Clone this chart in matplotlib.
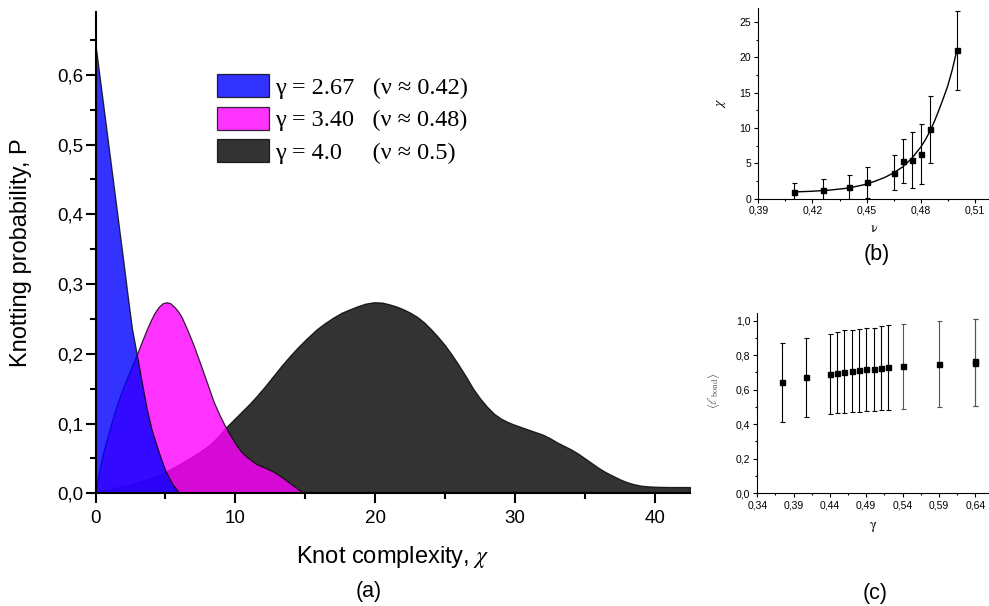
import numpy as np
import matplotlib
matplotlib.use('Agg')
import matplotlib.pyplot as plt
from matplotlib.patches import Patch
from matplotlib.ticker import MultipleLocator, FuncFormatter

plt.rcParams['font.family'] = ['Liberation Sans', 'DejaVu Sans']
plt.rcParams['mathtext.fontset'] = 'stix'

# panel (a): knotting probability curves
blue_x = [0, 0.5, 1.0, 1.5, 2.0, 2.3, 2.6, 2.95, 3.3, 3.65, 4.0, 4.5, 5.0, 5.5, 6.0]
blue_y = [0.643, 0.565, 0.487, 0.409, 0.331, 0.283, 0.237, 0.199, 0.160, 0.122, 0.092, 0.060, 0.032, 0.013, 0.0]

mag_x = [0, 0.2, 0.5, 0.8, 1.15, 1.5, 1.85, 2.2, 2.6, 2.95, 3.3, 3.66, 3.95, 4.2, 4.5,
         4.8, 5.07, 5.35, 5.65, 5.9, 6.15, 6.55, 7.0, 7.47, 8.0, 8.43, 8.85, 9.27, 9.7, 10.1,
         10.45, 10.8, 11.15, 11.5, 11.85, 12.2, 12.5, 12.8, 13.1, 13.4, 13.8, 14.2, 14.55, 14.9]
mag_y = [0, 0.025, 0.055, 0.077, 0.102, 0.125, 0.145, 0.163, 0.182, 0.199, 0.217, 0.235, 0.248, 0.258, 0.267,
         0.2725, 0.274, 0.2725, 0.267, 0.261, 0.253, 0.235, 0.213, 0.187, 0.157, 0.132, 0.113, 0.096, 0.081, 0.068,
         0.059, 0.0525, 0.047, 0.042, 0.039, 0.036, 0.033, 0.030, 0.026, 0.022, 0.016, 0.010, 0.005, 0.0]

black_x = [0, 1, 2, 3, 4.4, 5.5, 6.8, 7.5, 8.2, 8.8, 9.4, 10.0, 10.5, 11.0, 11.5, 12.1, 12.7,
           13.3, 13.9, 14.5, 15.0, 15.8, 16.4, 17.0, 17.6, 18.2, 18.7, 19.3, 19.9, 20.5, 21.0, 21.5,
           22.0, 22.5, 23.0, 23.5, 24.0, 24.5, 25.0, 25.5, 26.0, 26.5, 27.0, 27.5, 28.0, 28.5, 29.0,
           29.5, 30.0, 31.0, 32.0, 32.5, 33.0, 33.5, 34.0, 34.5, 35.0, 35.5, 36.0, 36.5, 37.0, 37.5,
           38.0, 38.5, 39.0, 39.5, 40.0, 41.0, 42.5]
black_y = [0.003, 0.006, 0.0105, 0.016, 0.025, 0.036, 0.051, 0.060, 0.070, 0.082, 0.096, 0.108, 0.118, 0.128, 0.139, 0.153, 0.168,
           0.183, 0.197, 0.210, 0.220, 0.235, 0.244, 0.252, 0.259, 0.264, 0.268, 0.272, 0.274, 0.2735, 0.271, 0.268,
           0.264, 0.259, 0.253, 0.245, 0.235, 0.224, 0.212, 0.198, 0.183, 0.167, 0.150, 0.136, 0.124, 0.114, 0.107,
           0.102, 0.098, 0.091, 0.084, 0.079, 0.073, 0.068, 0.063, 0.057, 0.050, 0.043, 0.036, 0.030, 0.025, 0.020,
           0.016, 0.013, 0.011, 0.010, 0.0095, 0.009, 0.009]

labels_a = ['\u03b3 = 2.67   (\u03bd \u2248 0.42)',
            '\u03b3 = 3.40   (\u03bd \u2248 0.48)',
            '\u03b3 = 4.0     (\u03bd \u2248 0.5)']

# panel (b): chi vs nu
nu = [0.41, 0.426, 0.44, 0.45, 0.465, 0.47, 0.475, 0.48, 0.485, 0.50]
chi = [0.95, 1.18, 1.6, 2.3, 3.7, 5.3, 5.5, 6.3, 9.8, 21.0]
chi_err = [1.3, 1.6, 1.7, 2.15, 2.45, 3.1, 3.95, 4.2, 4.7, 5.6]
fit_nu = [0.41, 0.42, 0.43, 0.44, 0.45, 0.455, 0.46, 0.465, 0.47, 0.475, 0.48, 0.4825,
          0.485, 0.4875, 0.49, 0.4925, 0.495, 0.4975, 0.50]
fit_chi = [0.95, 1.05, 1.22, 1.5, 2.05, 2.5, 3.0, 3.65, 4.5, 5.7, 7.3, 8.3,
           9.5, 10.9, 12.5, 14.2, 16.0, 18.3, 21.0]

# panel (c): mean bond length vs gamma
gam = [0.374, 0.407, 0.44, 0.45, 0.46, 0.47, 0.48, 0.49, 0.50, 0.51, 0.52, 0.54, 0.59, 0.64, 0.64]
ell = [0.645, 0.672, 0.693, 0.699, 0.705, 0.709, 0.713, 0.719, 0.719, 0.727, 0.730, 0.737, 0.750, 0.755, 0.765]
ell_lo = [0.415, 0.444, 0.459, 0.463, 0.465, 0.469, 0.473, 0.477, 0.479, 0.483, 0.485, 0.490, 0.497, 0.508, 0.508]
ell_hi = [0.869, 0.902, 0.925, 0.933, 0.944, 0.948, 0.954, 0.960, 0.960, 0.967, 0.975, 0.978, 1.000, 1.012, 1.012]


def comma(fmt):
    return FuncFormatter(lambda v, p: (fmt % v).replace('.', ','))


def style(ax, lw, major, minor, size):
    for s in ['top', 'right']:
        ax.spines[s].set_visible(False)
    for s in ['left', 'bottom']:
        ax.spines[s].set_linewidth(lw)
    ax.tick_params(which='major', direction='out', length=major, width=lw, labelsize=size, pad=2)
    ax.tick_params(which='minor', direction='out', length=minor, width=lw)


fig = plt.figure(figsize=(9.89, 6.06), dpi=100)

# ---- (a)
ax = fig.add_axes([0.0966, 0.186, 0.601, 0.794])
ax.fill_between(black_x, black_y, 0, facecolor='black', edgecolor='black', alpha=0.8, lw=0.9)
ax.fill_between(mag_x, mag_y, 0, facecolor='magenta', edgecolor='black', alpha=0.8, lw=0.9)
ax.fill_between(blue_x, blue_y, 0, facecolor='blue', edgecolor='black', alpha=0.8, lw=0.9)
ax.set_xlim(0, 42.5)
ax.set_ylim(0, 0.69)
style(ax, 1.5, 7, 4.3, 13.5)
ax.xaxis.set_major_locator(MultipleLocator(10))
ax.xaxis.set_minor_locator(MultipleLocator(5))
ax.yaxis.set_major_locator(MultipleLocator(0.1))
ax.yaxis.set_minor_locator(MultipleLocator(0.05))
ax.yaxis.set_major_formatter(comma('%.1f'))
ax.tick_params(axis='x', pad=5)
ax.set_xlabel(r'Knot complexity, $\chi$', fontsize=17)
ax.xaxis.set_label_coords(0.5, -0.105)
ax.set_ylabel('Knotting probability, P', fontsize=17)
ax.yaxis.set_label_coords(-0.125, 0.5)
ax.yaxis.label.set_va('center')

handles = [Patch(facecolor=c, edgecolor='black', alpha=0.8, lw=0.9) for c in ['blue', 'magenta', 'black']]
ax.legend(handles, labels_a, loc='upper left', bbox_to_anchor=(0.204, 0.871), frameon=False,
          prop={'family': ['Liberation Serif', 'DejaVu Serif'], 'size': 17.5},
          handlelength=2.15, handleheight=1.07, handletextpad=0.25, labelspacing=0.32,
          borderpad=0, borderaxespad=0)

# ---- (b)
axb = fig.add_axes([0.7667, 0.6722, 0.2333, 0.3147])
axb.plot(fit_nu, fit_chi, color='black', lw=1.0)
axb.errorbar(nu, chi, yerr=chi_err, fmt='s', color='black', ms=3.6, capsize=1.8, elinewidth=0.8, capthick=0.8)
axb.set_xlim(0.39, 0.5178)
axb.set_ylim(0, 27.0)
style(axb, 0.8, 3, 1.6, 7.5)
axb.xaxis.set_major_locator(MultipleLocator(0.03))
axb.xaxis.set_minor_locator(MultipleLocator(0.015))
axb.yaxis.set_major_locator(MultipleLocator(5))
axb.yaxis.set_minor_locator(MultipleLocator(2.5))
axb.xaxis.set_major_formatter(comma('%.2f'))
axb.set_xlabel(r'$\mathrm{\nu}$', fontsize=10)
axb.xaxis.set_label_coords(0.5, -0.115)
axb.set_ylabel(r'$\chi$', fontsize=10)
axb.yaxis.set_label_coords(-0.16, 0.5)
axb.yaxis.label.set_va('center')

# ---- (c)
axc = fig.add_axes([0.7657, 0.186, 0.2343, 0.298])
dark = slice(0, 11)
grey = slice(11, None)
for sl, col in [(dark, 'black'), (grey, '#555555')]:
    g = np.array(gam[sl])
    m = np.array(ell[sl])
    err = [m - np.array(ell_lo[sl]), np.array(ell_hi[sl]) - m]
    axc.errorbar(g, m, yerr=err, fmt='none', ecolor=col, capsize=1.8, elinewidth=0.8, capthick=0.8)
axc.plot(gam, ell, 's', color='black', ms=3.6)
axc.set_xlim(0.34, 0.659)
axc.set_ylim(0, 1.046)
style(axc, 0.8, 3, 1.6, 7.5)
axc.xaxis.set_major_locator(MultipleLocator(0.05, offset=0.04))
axc.xaxis.set_minor_locator(MultipleLocator(0.025, offset=0.015))
axc.yaxis.set_major_locator(MultipleLocator(0.2))
axc.yaxis.set_minor_locator(MultipleLocator(0.1))
axc.xaxis.set_major_formatter(comma('%.2f'))
axc.yaxis.set_major_formatter(comma('%.1f'))
axc.set_xlabel(r'$\mathrm{\gamma}$', fontsize=10)
axc.xaxis.set_label_coords(0.5, -0.15)
axc.set_ylabel(r'$\langle\ell_{\mathrm{bond}}\rangle$', fontsize=9, color='#666666')
axc.yaxis.set_label_coords(-0.19, 0.57)
axc.yaxis.label.set_va('center')

fig.text(369 / 989, 1 - 592 / 606, '(a)', fontsize=15.5, ha='center', va='center')
fig.text(877 / 989, 1 - 255 / 606, '(b)', fontsize=15.5, ha='center', va='center')
fig.text(875 / 989, 1 - 593 / 606, '(c)', fontsize=15.5, ha='center', va='center')

fig.savefig('out.png', dpi=100)
